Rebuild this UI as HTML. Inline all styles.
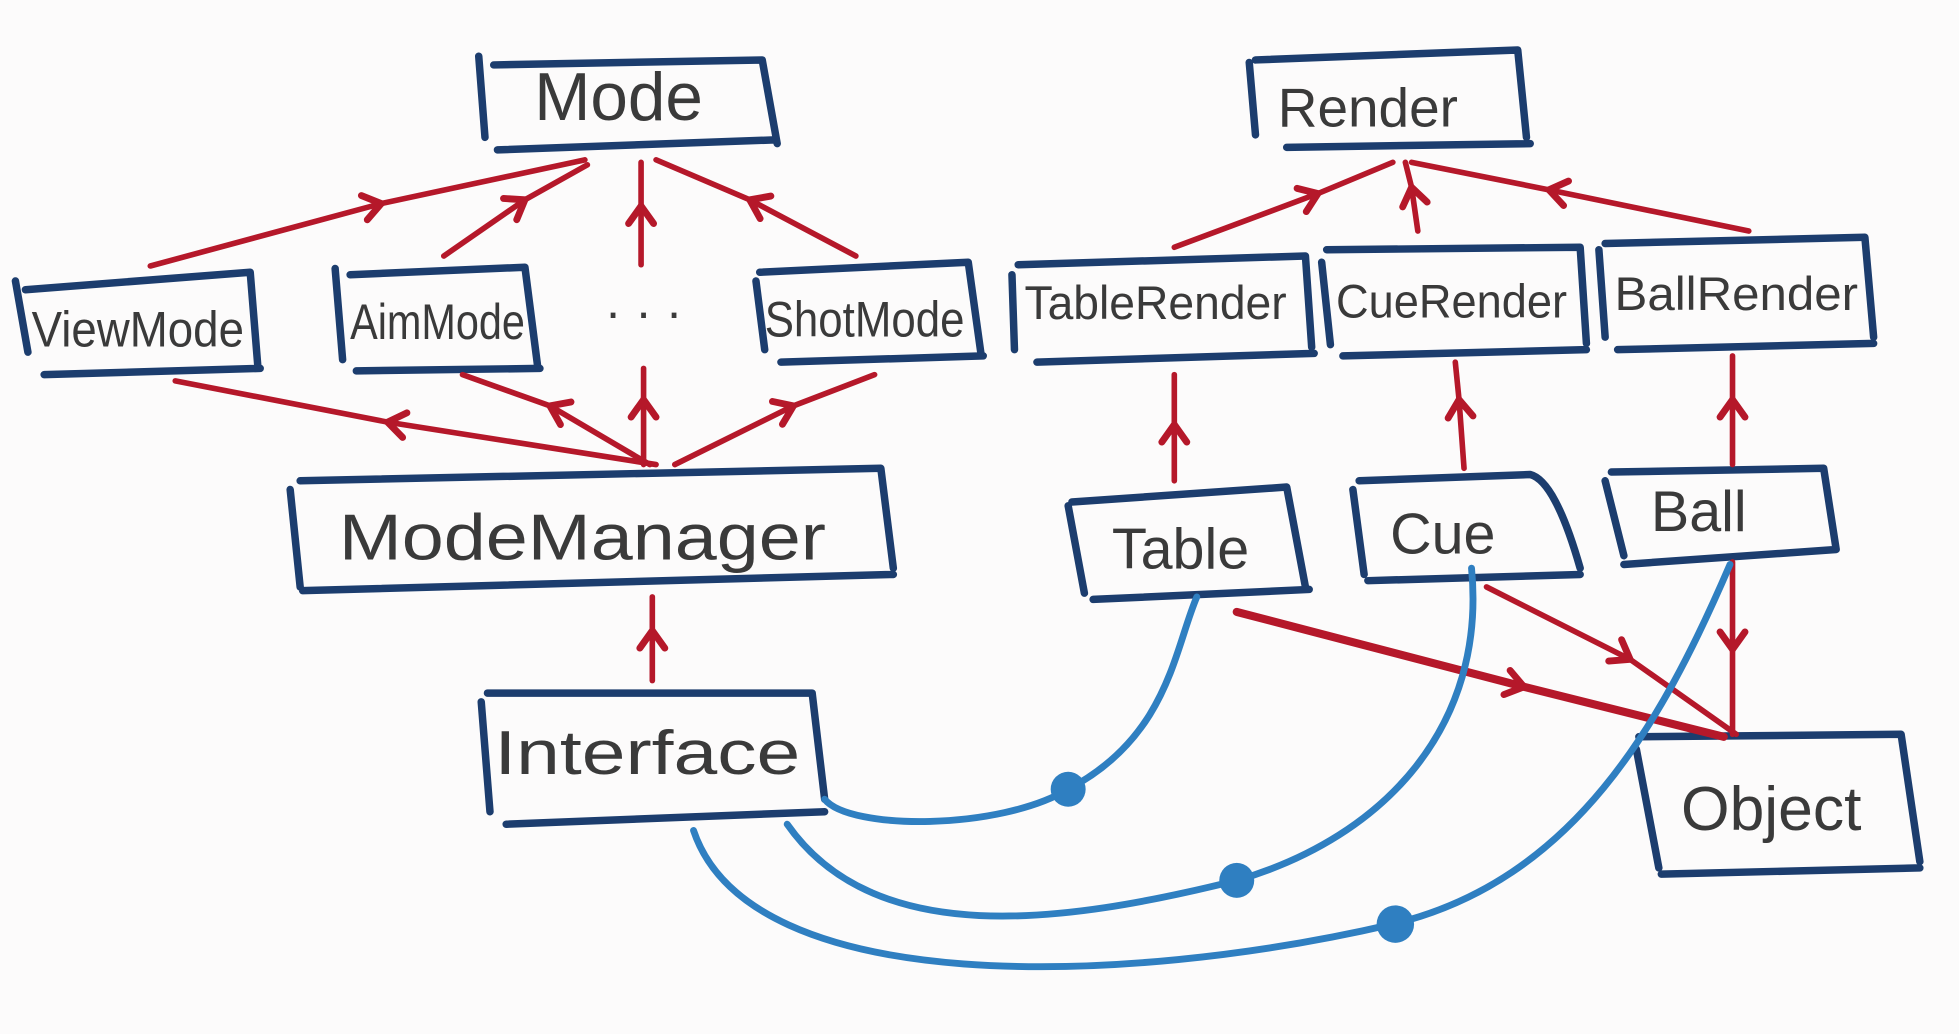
<!DOCTYPE html>
<html><head><meta charset="utf-8"><style>
html,body{margin:0;padding:0;background:#fcfbfb;}
svg{display:block}
text{font-family:"Liberation Sans",sans-serif;fill:#3a3a3a;text-anchor:middle;dominant-baseline:central;}
.b{fill:none;stroke:#1c3d6e;stroke-width:6;stroke-linejoin:round;stroke-linecap:round}
.r{fill:none;stroke:#b5182a;stroke-width:4.5;stroke-linecap:round;marker-mid:url(#ch)}
.bl{fill:none;stroke:#2f7fc1;stroke-width:5.5;stroke-linecap:round}
</style></head><body>
<svg width="1959" height="1034" viewBox="0 0 1568 828" xmlns="http://www.w3.org/2000/svg">
<defs>
<marker id="ch" markerUnits="userSpaceOnUse" markerWidth="40" markerHeight="40" refX="0" refY="0" viewBox="-20 -20 40 40" orient="auto">
<path d="M-14,-10 L0,0 L-14,10" fill="none" stroke="#b5182a" stroke-width="5.5" stroke-linecap="round"/>
</marker>
</defs>
<rect width="1568" height="828" fill="#fcfbfb"/>
<g class="b">
<path d="M383,45 L388,110 M395,52 L610,48 L622,115 M398,120 L620,112"/>
<path d="M1000,50 L1005,108 M1005,48 L1215,40 L1222,110 M1030,118 L1225,115"/>
<path d="M12,225 L22,282 M20,232 L200,218 L206,292 M35,300 L208,295"/>
<path d="M268,215 L274,288 M280,220 L420,214 L430,292 M285,297 L432,295"/>
<path d="M605,225 L612,280 M608,218 L775,210 L785,282 M625,290 L787,285"/>
<path d="M810,220 L812,280 M815,212 L1045,205 L1050,278 M830,290 L1052,283"/>
<path d="M1058,210 L1065,276 M1062,200 L1265,198 L1270,275 M1075,285 L1270,280"/>
<path d="M1280,200 L1285,270 M1285,195 L1493,190 L1500,270 M1295,280 L1500,275"/>
<path d="M232,392 L240,470 M240,385 L705,375 L715,455 M242,473 L715,460"/>
<path d="M855,405 L868,475 M858,402 L1030,390 L1045,470 M875,480 L1048,472"/>
<path d="M1083,392 L1092,460 M1088,385 L1225,380 Q1245,385 1265,455 M1095,465 L1265,460"/>
<path d="M1285,385 L1300,445 M1290,378 L1460,375 L1470,440 M1300,452 L1470,440"/>
<path d="M385,562 L392,650 M390,555 L650,555 L660,640 M405,660 L660,650"/>
<path d="M1310,600 L1328,695 M1312,590 L1522,588 L1537,690 M1330,700 L1537,695"/>
</g>
<text x="495" y="78" font-size="54">Mode</text>
<text x="1095" y="86" font-size="44">Render</text>
<text x="110" y="264" font-size="40" textLength="170" lengthAdjust="spacingAndGlyphs">ViewMode</text>
<text x="350" y="258" font-size="40" textLength="140" lengthAdjust="spacingAndGlyphs">AimMode</text>
<text x="515" y="250" font-size="40">· · ·</text>
<text x="692" y="256" font-size="40" textLength="160" lengthAdjust="spacingAndGlyphs">ShotMode</text>
<text x="925" y="243" font-size="38" textLength="210" lengthAdjust="spacingAndGlyphs">TableRender</text>
<text x="1162" y="242" font-size="38" textLength="185" lengthAdjust="spacingAndGlyphs">CueRender</text>
<text x="1390" y="236" font-size="38" textLength="195" lengthAdjust="spacingAndGlyphs">BallRender</text>
<text x="466" y="430" font-size="52" textLength="390" lengthAdjust="spacingAndGlyphs">ModeManager</text>
<text x="945" y="440" font-size="46">Table</text>
<text x="1155" y="428" font-size="46">Cue</text>
<text x="1360" y="410" font-size="46">Ball</text>
<text x="518" y="603" font-size="50" textLength="245" lengthAdjust="spacingAndGlyphs">Interface</text>
<text x="1418" y="648" font-size="50">Object</text>
<g class="r">
<path d="M120,213 L305,163 L468,128"/>
<path d="M355,205 L420,160 L470,132"/>
<path d="M513,212 L513,165 L513,130"/>
<path d="M685,205 L600,160 L525,128"/>
<path d="M940,198 L1055,155 L1115,130"/>
<path d="M1135,185 L1130,150 L1125,130"/>
<path d="M1400,185 L1240,152 L1130,130"/>
<path d="M525,372 L310,338 L140,305"/>
<path d="M520,372 L440,325 L370,300"/>
<path d="M515,372 L515,320 L515,295"/>
<path d="M540,372 L635,325 L700,300"/>
<path d="M522,545 L522,505 L522,478"/>
<path d="M940,385 L940,340 L940,300"/>
<path d="M1172,375 L1168,320 L1165,290"/>
<path d="M1387,372 L1387,320 L1387,285"/>
<path d="M990,490 L1220,550 L1380,590" stroke-width="6.5"/>
<path d="M1190,470 L1305,528 L1390,588"/>
<path d="M1387,450 L1387,520 L1387,588"/>
</g>
<g class="bl">
<path d="M660,640 C680,665 800,665 855,632 C935,590 940,520 958,478"/>
<path d="M630,660 C700,760 850,740 990,705 C1110,670 1190,580 1178,455"/>
<path d="M555,665 C600,800 900,790 1115,740 C1260,705 1330,580 1385,452"/>
</g>
<g fill="#2f7fc1">
<circle cx="855" cy="632" r="14"/>
<circle cx="990" cy="705" r="14"/>
<circle cx="1117" cy="740" r="15"/>
</g>
</svg>
</body></html>
